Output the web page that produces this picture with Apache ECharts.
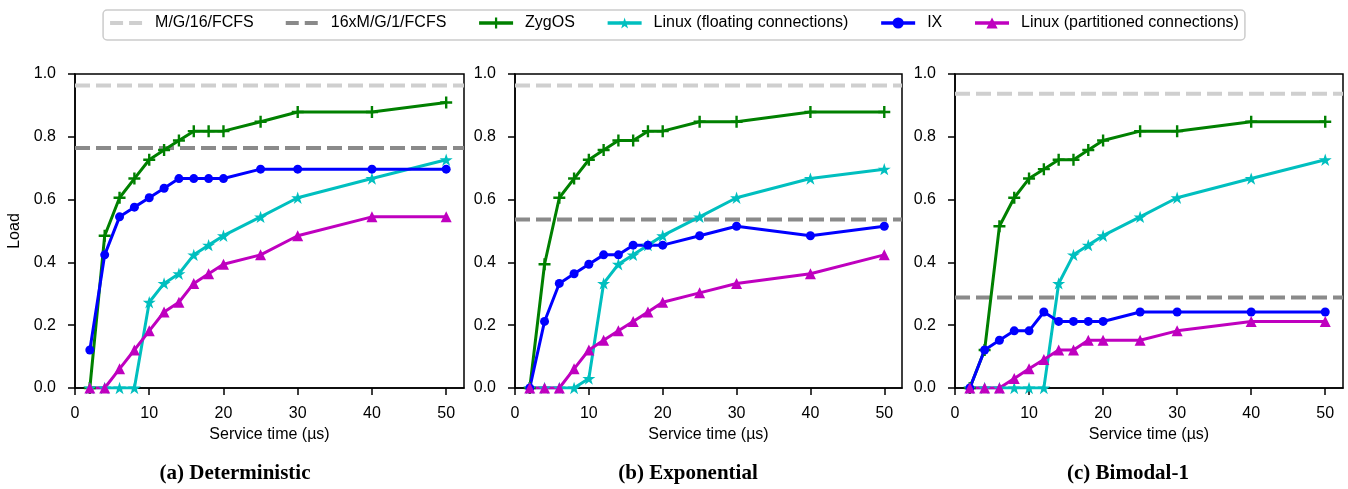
<!DOCTYPE html>
<html>
<head>
<meta charset="utf-8">
<script src="https://cdn.jsdelivr.net/npm/echarts@6/dist/echarts.min.js"></script>
<style>
html,body{margin:0;padding:0;background:#fff;}
#chart{width:1348px;height:489px;}
</style>
</head>
<body>
<div id="chart"></div>
<script>
// ---- data ----
const xVals = [2, 4, 6, 8, 10, 12, 14, 16, 18, 20, 25, 30, 40, 50];
const xTicks = [0, 10, 20, 30, 40, 50];
const yTicks = [0, 0.2, 0.4, 0.6, 0.8, 1.0];
const xMax = 52.4;

const panelTitles = ['(a) Deterministic', '(b) Exponential', '(c) Bimodal-1'];
const seriesNames = ['M/G/16/FCFS', '16xM/G/1/FCFS', 'ZygOS', 'Linux (floating connections)', 'IX', 'Linux (partitioned connections)'];

// reference (horizontal) levels per panel
const mg16 = [0.963, 0.963, 0.937];
const m16g1 = [0.764, 0.537, 0.288];

// panel (a) Deterministic
const zygosA = [0, 0.485, 0.606, 0.667, 0.727, 0.758, 0.788, 0.818, 0.818, 0.818, 0.848, 0.879, 0.879, 0.909];
const floatA = [0, 0, 0, 0, 0.273, 0.333, 0.364, 0.424, 0.455, 0.485, 0.545, 0.606, 0.667, 0.727];
const ixA = [0.121, 0.424, 0.545, 0.576, 0.606, 0.636, 0.667, 0.667, 0.667, 0.667, 0.697, 0.697, 0.697, 0.697];
const partA = [0, 0, 0.061, 0.121, 0.182, 0.242, 0.273, 0.333, 0.364, 0.394, 0.424, 0.485, 0.545, 0.545];

// panel (b) Exponential
const zygosB = [0, 0.394, 0.606, 0.667, 0.727, 0.758, 0.788, 0.788, 0.818, 0.818, 0.848, 0.848, 0.879, 0.879];
const floatB = [0, 0, 0, 0, 0.03, 0.333, 0.394, 0.424, 0.455, 0.485, 0.545, 0.606, 0.667, 0.697];
const ixB = [0, 0.212, 0.333, 0.364, 0.394, 0.424, 0.424, 0.455, 0.455, 0.455, 0.485, 0.515, 0.485, 0.515];
const partB = [0, 0, 0, 0.061, 0.121, 0.152, 0.182, 0.212, 0.242, 0.273, 0.303, 0.333, 0.364, 0.424];

// panel (c) Bimodal-1
const zygosC = [0, 0.121, 0.515, 0.606, 0.667, 0.697, 0.727, 0.727, 0.758, 0.788, 0.818, 0.818, 0.848, 0.848];
const floatC = [0, 0, 0, 0, 0, 0, 0.333, 0.424, 0.455, 0.485, 0.545, 0.606, 0.667, 0.727];
const ixC = [0, 0.121, 0.152, 0.182, 0.182, 0.242, 0.212, 0.212, 0.212, 0.212, 0.242, 0.242, 0.242, 0.242];
const partC = [0, 0, 0, 0.03, 0.061, 0.091, 0.121, 0.121, 0.152, 0.152, 0.152, 0.182, 0.212, 0.212];

const panels = [
  {zygos: zygosA, float: floatA, ix: ixA, part: partA},
  {zygos: zygosB, float: floatB, ix: ixB, part: partB},
  {zygos: zygosC, float: floatC, ix: ixC, part: partC}
];

// ---- styling / layout ----
const FONT = 'Liberation Sans';
const gridLefts = [75, 515, 955];
const gridWidths = [389, 387, 388];
const titleCenters = [235, 688, 1128];
const colors = {
  mg16: '#cfcfcf', m16g1: '#8a8a8a', zygos: '#008000', float: '#00bfbf', ix: '#0000ff', part: '#bf00bf'
};
const PLUS = 'path://M4,0H6V4H10V6H6V10H4V6H0V4H4Z';
const STAR = 'path://M50,0L61.23,34.55L97.55,34.55L68.17,55.9L79.39,90.45L50,69.1L20.61,90.45L31.83,55.9L2.45,34.55L38.77,34.55Z';
const DASH_ICON = 'path://M0,0L0.01,0ZM1,5H14V9H1ZM20,5H33V9H20ZM34,14L33.99,14Z';

function pairs(ys) { return xVals.map((x, i) => [x, ys[i]]); }

const grids = [], xAxes = [], yAxes = [], series = [], graphics = [];
panels.forEach((p, k) => {
  grids.push({left: gridLefts[k], top: 74, width: gridWidths[k], height: 314,
    show: true, borderColor: '#000', borderWidth: 1.5, backgroundColor: 'transparent'});
  xAxes.push({type: 'value', gridIndex: k, min: 0, max: xMax, interval: 10,
    name: 'Service time (µs)', nameLocation: 'middle', nameGap: 39,
    nameTextStyle: {fontFamily: FONT, fontSize: 16, color: '#000'},
    axisLine: {show: true, onZero: false, lineStyle: {color: '#000', width: 1.5}},
    axisTick: {show: true, length: 7, inside: false, customValues: xTicks, lineStyle: {color: '#000', width: 1.5}},
    axisLabel: {customValues: xTicks, margin: 18, fontFamily: FONT, fontSize: 16, color: '#000'},
    splitLine: {show: false}});
  yAxes.push({type: 'value', gridIndex: k, min: 0, max: 1, interval: 0.2,
    name: k === 0 ? 'Load' : '', nameLocation: 'middle', nameGap: 52,
    nameTextStyle: {fontFamily: FONT, fontSize: 16, color: '#000'},
    axisLine: {show: true, onZero: false, lineStyle: {color: '#000', width: 1.5}},
    axisTick: {show: true, length: 7, lineStyle: {color: '#000', width: 1.5}},
    axisLabel: {margin: 19, fontFamily: FONT, fontSize: 16, color: '#000', formatter: v => v.toFixed(1)},
    splitLine: {show: false}});

  const base = {type: 'line', xAxisIndex: k, yAxisIndex: k, animation: false, silent: true};
  series.push(Object.assign({}, base, {name: seriesNames[0], data: [[0, mg16[k]], [xMax, mg16[k]]],
    symbol: 'none', lineStyle: {color: colors.mg16, width: 4, type: [15, 6]}, itemStyle: {color: colors.mg16}}));
  series.push(Object.assign({}, base, {name: seriesNames[1], data: [[0, m16g1[k]], [xMax, m16g1[k]]],
    symbol: 'none', lineStyle: {color: colors.m16g1, width: 4, type: [15, 6]}, itemStyle: {color: colors.m16g1}}));
  series.push(Object.assign({}, base, {name: seriesNames[2], data: pairs(p.zygos),
    symbol: PLUS, symbolSize: 12, lineStyle: {color: colors.zygos, width: 3}, itemStyle: {color: colors.zygos}}));
  series.push(Object.assign({}, base, {name: seriesNames[3], data: pairs(p.float),
    symbol: STAR, symbolSize: 13, symbolKeepAspect: true, lineStyle: {color: colors.float, width: 3}, itemStyle: {color: colors.float}}));
  series.push(Object.assign({}, base, {name: seriesNames[4], data: pairs(p.ix),
    symbol: 'circle', symbolSize: 9, lineStyle: {color: colors.ix, width: 3}, itemStyle: {color: colors.ix}}));
  series.push(Object.assign({}, base, {name: seriesNames[5], data: pairs(p.part),
    symbol: 'triangle', symbolSize: 11, lineStyle: {color: colors.part, width: 3}, itemStyle: {color: colors.part}}));

  graphics.push({type: 'text', x: titleCenters[k], y: 474,
    style: {text: panelTitles[k], textAlign: 'center', textVerticalAlign: 'middle',
      fontFamily: 'Liberation Serif', fontWeight: 'bold', fontSize: 21, fill: '#000'}});
});

const legendData = seriesNames.map((n, i) => i < 2 ? {name: n, icon: DASH_ICON} : {name: n});

const chart = echarts.init(document.getElementById('chart'), null, {renderer: 'canvas'});
chart.setOption({
  backgroundColor: '#fff',
  animation: false,
  legend: {
    data: legendData, left: 'center', top: 10, selectedMode: false,
    itemWidth: 34, itemHeight: 14, itemGap: 31,
    padding: [5, 6, 9, 6],
    borderColor: '#cccccc', borderWidth: 1.5, borderRadius: 4,
    lineStyle: {width: 3.5},
    textStyle: {fontFamily: FONT, fontSize: 16, color: '#000', padding: [0, 0, 0, 7]}
  },
  grid: grids, xAxis: xAxes, yAxis: yAxes, series: series, graphic: graphics
});
</script>
</body>
</html>
